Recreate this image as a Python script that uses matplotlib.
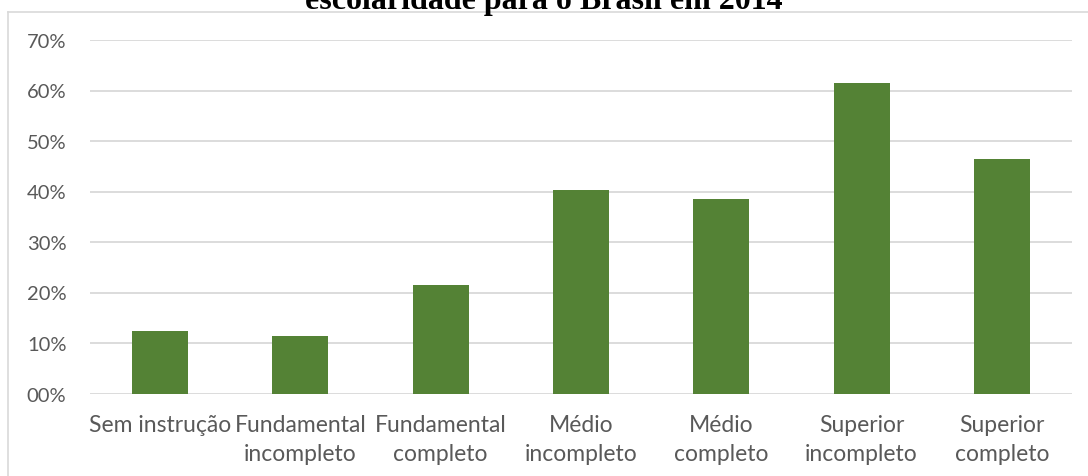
import matplotlib
matplotlib.use("Agg")
import matplotlib.pyplot as plt
from matplotlib.lines import Line2D

categories = ["Sem instrução", "Fundamental\nincompleto", "Fundamental\ncompleto",
              "Médio\nincompleto", "Médio\ncompleto", "Superior\nincompleto", "Superior\ncompleto"]
values = [0.124, 0.113, 0.215, 0.403, 0.386, 0.615, 0.465]
ytick_values = [0, 0.1, 0.2, 0.3, 0.4, 0.5, 0.6, 0.7]
ytick_labels = ["00%", "10%", "20%", "30%", "40%", "50%", "60%", "70%"]
title = "escolaridade para o Brasil em 2014"

W, H = 1088, 477
fig = plt.figure(figsize=(W / 100, H / 100), dpi=100)
fig.patch.set_facecolor("white")

# chart border (top and left visible)
fig.add_artist(Line2D([8 / W, 8 / W], [0, 1 - 13 / H], transform=fig.transFigure,
                      color="#D9D9D9", lw=1.2))
fig.add_artist(Line2D([8 / W, 1], [1 - 13 / H, 1 - 13 / H], transform=fig.transFigure,
                      color="#D9D9D9", lw=1.2))

ax = fig.add_axes([90 / W, 1 - 394.5 / H, (1072 - 90) / W, (394.5 - 41) / H])
x = range(len(categories))
ax.bar(x, values, width=0.4, color="#548235", zorder=3)
ax.set_xlim(-0.5, len(categories) - 0.5)
ax.set_ylim(0, 0.7)
ax.set_yticks(ytick_values)
ax.set_yticklabels(ytick_labels)
ax.set_xticks(list(x))
ax.set_xticklabels(categories, linespacing=1.45)
for s in ax.spines.values():
    s.set_visible(False)
ax.grid(axis="y", color="#D9D9D9", lw=1.3, zorder=0)
ax.tick_params(axis="both", length=0, colors="#595959")
ax.tick_params(axis="y", pad=17, labelsize=14.5)
ax.tick_params(axis="x", pad=15, labelsize=16.5)
for lab in ax.get_xticklabels() + ax.get_yticklabels():
    lab.set_fontfamily("Lato")

fig.text(0.5, 1 - 9 / H, title, ha="center", va="baseline", fontsize=23,
         fontweight="bold", fontfamily="Liberation Serif")

fig.savefig("out.png", dpi=100)
